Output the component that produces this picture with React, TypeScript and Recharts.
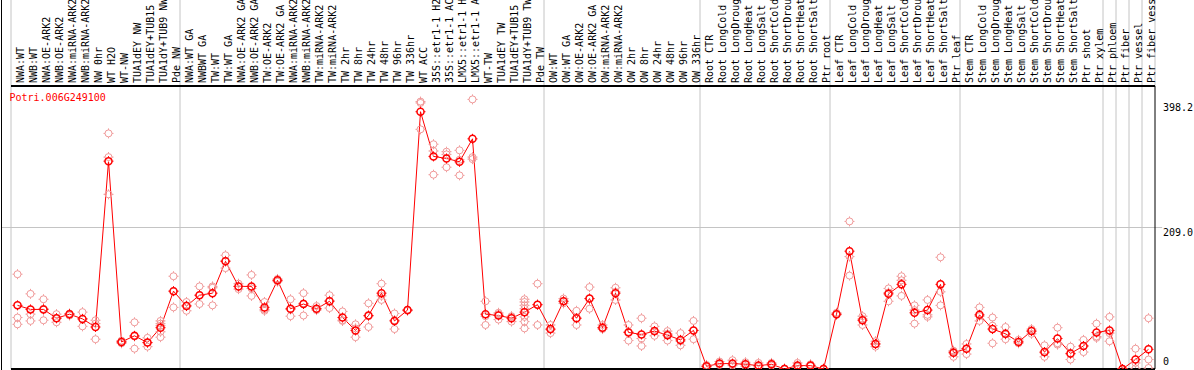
import React from "react";
import {
  ComposedChart,
  Line,
  Scatter,
  XAxis,
  YAxis,
  ReferenceLine,
} from "recharts";

const labels = [
  "NWA:WT", "NWB:WT", "NWA:OE-ARK2", "NWB:OE-ARK2", "NWA:miRNA-ARK2", "NWB:miRNA-ARK2",
  "NW 0hr", "WT H2O", "WT-NW", "TUA1dEY NW", "TUA1dEY+TUB15", "TUA1dY+TUB9 NW", "Pde NW",
  "NWA:WT GA", "NWBWT GA", "TW:WT", "TW:WT GA", "NWA:OE-ARK2 GA", "NWB:OE-ARK2 GA",
  "TW:OE-ARK2", "TW:OE-ARK2 GA", "NWA:miRNA-ARK2", "NWB:miRNA-ARK2", "TW:miRNA-ARK2",
  "TW:miRNA-ARK2", "TW 2hr", "TW 8hr", "TW 24hr", "TW 48hr", "TW 96hr", "TW 336hr",
  "WT ACC", "35S::etr1-1 H2", "35S::etr1-1 AC", "LMX5::etr1-1 H", "LMX5::etr1-1 A",
  "WT-TW", "TUA1dEY TW", "TUA1dEY+TUB15", "TUA1dY+TUB9 TW", "Pde TW",
  "OW:WT", "OW:WT GA", "OW:OE-ARK2", "OW:OE-ARK2 GA", "OW:miRNA-ARK2", "OW:miRNA-ARK2",
  "OW 2hr", "OW 8hr", "OW 24hr", "OW 48hr", "OW 96hr", "OW 336hr",
  "Root CTR", "Root LongCold", "Root LongDroug", "Root LongHeat", "Root LongSalt",
  "Root ShortCold", "Root ShortDrou", "Root ShortHeat", "Root ShortSalt", "Ptr root",
  "Leaf CTR", "Leaf LongCold", "Leaf LongDroug", "Leaf LongHeat", "Leaf LongSalt",
  "Leaf ShortCold", "Leaf ShortDrou", "Leaf ShortHeat", "Leaf ShortSalt", "Ptr leaf",
  "Stem CTR", "Stem LongCold", "Stem LongDroug", "Stem LongHeat", "Stem LongSalt",
  "Stem ShortCold", "Stem ShortDrou", "Stem ShortHeat", "Stem ShortSalt", "Ptr shoot",
  "Ptr xylem", "Ptr phloem", "Ptr fiber", "Ptr vessel", "Ptr fiber vess",
];

// mean expression per sample
const means = [
  94, 88, 88, 75, 81, 74, 62, 307, 40, 49, 39, 61, 115,
  93, 109, 112, 159, 122, 122, 91, 131,
  89, 96, 89, 100, 76, 57, 79, 112, 71, 87,
  380, 314, 311, 306, 340, 81, 79, 75, 84, 95,
  59, 100, 75, 104, 61, 112, 54, 51, 56, 50, 43, 57,
  4, 8, 8, 7, 5, 7, 0, 5, 5, 0,
  81, 174, 72, 37, 111, 125, 83, 87, 125, 24,
  30, 80, 59, 52, 40, 56, 25, 45, 23, 34, 54, 57, 0, 14, 29,
];

// individual replicates per sample
const reps = [
  [140, 76, 66], [111, 81, 71], [103, 72, 89], [81, 69, 75], [82, 79, 81], [84, 63, 74],
  [72, 67, 44], [348, 313, 258], [42, 40, 38], [69, 30, 48], [46, 33, 39],
  [71, 67, 64, 55, 47], [137, 91, 115],
  [99, 86, 94], [122, 96, 109], [122, 94, 120], [168, 149, 160], [126, 118, 122],
  [139, 108, 119], [99, 86, 88], [133, 129, 131], [103, 78, 88], [112, 79, 97],
  [93, 87, 89], [109, 90, 101], [85, 72, 71], [66, 47, 60], [97, 62, 78],
  [126, 102, 108], [82, 59, 72], [87, 86, 87], [395, 393, 354], [332, 322, 287],
  [321, 317, 298], [323, 286, 309], [398.2, 313, 310], [100, 65, 78], [83, 73, 81],
  [77, 70, 78], [103, 99, 94, 89, 77, 70, 60], [126, 65, 95],
  [65, 53, 58], [104, 97, 100], [86, 65, 75], [121, 89, 104], [65, 59, 61],
  [120, 102, 114], [65, 42, 55], [75, 45, 34], [63, 49, 55], [56, 42, 52],
  [53, 35, 41], [71, 44, 57],
  [6, 3, 4], [11, 6, 8], [13, 5, 7], [10, 4, 7], [9, 3, 3], [9, 5, 7], [1, 0, 0],
  [9, 3, 4], [7, 4, 5], [1, 0, 0],
  [83, 80, 81], [218, 138, 166], [78, 65, 74], [33, 41, 37], [119, 100, 113],
  [137, 131, 108], [94, 67, 87], [102, 77, 80], [165, 114, 94], [27, 18, 26],
  [37, 22, 30], [91, 71, 78], [76, 64, 38], [62, 44, 51], [43, 38, 40], [59, 52, 56],
  [35, 18, 24], [61, 38, 36], [33, 14, 22], [43, 25, 34], [67, 48, 46], [77, 41, 53],
  [0, 0, 0], [30, 1, 9], [75, 14, 1.5],
];

const yTicks = [0, 209, 398.2];
// boundaries between sample groups
const groupEdges = [-0.5, 12.5, 40.5, 52.5, 62.5, 72.5, 83.5, 84.5, 85.5, 86.5, 87.5];

const RED = "#ff0000";
const PINK = "#f09a9a";
const GRID = "#c4c4c4";
const FONT = "'DejaVu Sans Mono', monospace";
const Y_MAX = 418;
const TOP_EXT = 560;

const meanData = means.map((m, i) => ({ i, mean: m }));
const repData = reps.flatMap((vals, i) => vals.map((v) => ({ i, v })));

const Marker = ({ cx, cy, color, w }: any) => {
  if (cx == null || cy == null) return null;
  return (
    <g>
      <circle cx={cx} cy={cy} r={3.5} fill="none" stroke={color} strokeWidth={w} />
      <path
        d={`M${cx},${cy - 5}v1.5M${cx},${cy + 3.5}v1.5M${cx - 5},${cy}h1.5M${cx + 3.5},${cy}h1.5`}
        stroke={color}
        strokeWidth={1}
      />
    </g>
  );
};

const XTick = ({ x, y, payload }: any) => (
  <text
    transform={`translate(${x + 6.5},${y}) rotate(-90)`}
    textAnchor="start"
    fontFamily={FONT}
    fontSize={10}
    fill="#000"
  >
    {labels[payload.value]}
  </text>
);

const YTick = ({ x, y, payload }: any) => {
  const v = payload.value;
  const off = v === 0 ? -7.5 : v > 300 ? 8 : 4.5;
  return (
    <text x={x} y={y + off} dominantBaseline="central" fontFamily={FONT} fontSize={10} fill="#000">
      {v === 0 ? "0" : v.toFixed(1)}
    </text>
  );
};

export default function App() {
  return (
    <div style={{ position: "absolute", left: 0, top: 0, width: 1194, height: 370, background: "#fff" }}>
      <ComposedChart
        width={1194}
        height={370}
        data={meanData}
        margin={{ top: 0, right: 0, bottom: 1, left: 11 }}
      >
        <XAxis
          dataKey="i"
          type="number"
          domain={[-0.5, 87.5]}
          ticks={labels.map((_, i) => i)}
          interval={0}
          orientation="top"
          height={86}
          axisLine={{ stroke: "#000", strokeWidth: 2 }}
          tickLine={false}
          tickSize={0}
          tickMargin={3}
          tick={<XTick />}
        />
        <YAxis
          orientation="right"
          type="number"
          domain={[0, Y_MAX]}
          allowDataOverflow
          ticks={yTicks}
          interval={0}
          width={39}
          axisLine={{ stroke: "#000" }}
          tickLine={false}
          tickSize={0}
          tickMargin={8}
          tick={<YTick />}
        />
        {groupEdges.map((e) => (
          <ReferenceLine
            key={`g${e}`}
            segment={[
              { x: e, y: e === 87.5 ? Y_MAX : 0 },
              { x: e, y: TOP_EXT },
            ]}
            stroke={GRID}
            ifOverflow="visible"
          />
        ))}
        <ReferenceLine
          segment={[
            { x: -1.2, y: 209 },
            { x: 88.05, y: 209 },
          ]}
          stroke={GRID}
          ifOverflow="visible"
        />
        <ReferenceLine y={0} stroke="#000" strokeWidth={2} ifOverflow="visible" />
        <Scatter
          data={repData}
          dataKey="v"
          isAnimationActive={false}
          shape={(p: any) => <Marker cx={p.cx} cy={p.cy} color={PINK} w={1} />}
        />
        <Line
          dataKey="mean"
          type="linear"
          stroke={RED}
          strokeWidth={1}
          isAnimationActive={false}
          dot={(p: any) => <Marker key={`m${p.index}`} cx={p.cx} cy={p.cy} color={RED} w={1.5} />}
          activeDot={false}
        />
      </ComposedChart>
      <svg
        width={1194}
        height={370}
        style={{ position: "absolute", left: 0, top: 0, pointerEvents: "none" }}
      >
        <rect x={1} y={0} width={1} height={370} fill="#000" />
        <text x={9.5} y={100.5} fontFamily={FONT} fontSize={10} fill={RED}>
          Potri.006G249100
        </text>
      </svg>
    </div>
  );
}
